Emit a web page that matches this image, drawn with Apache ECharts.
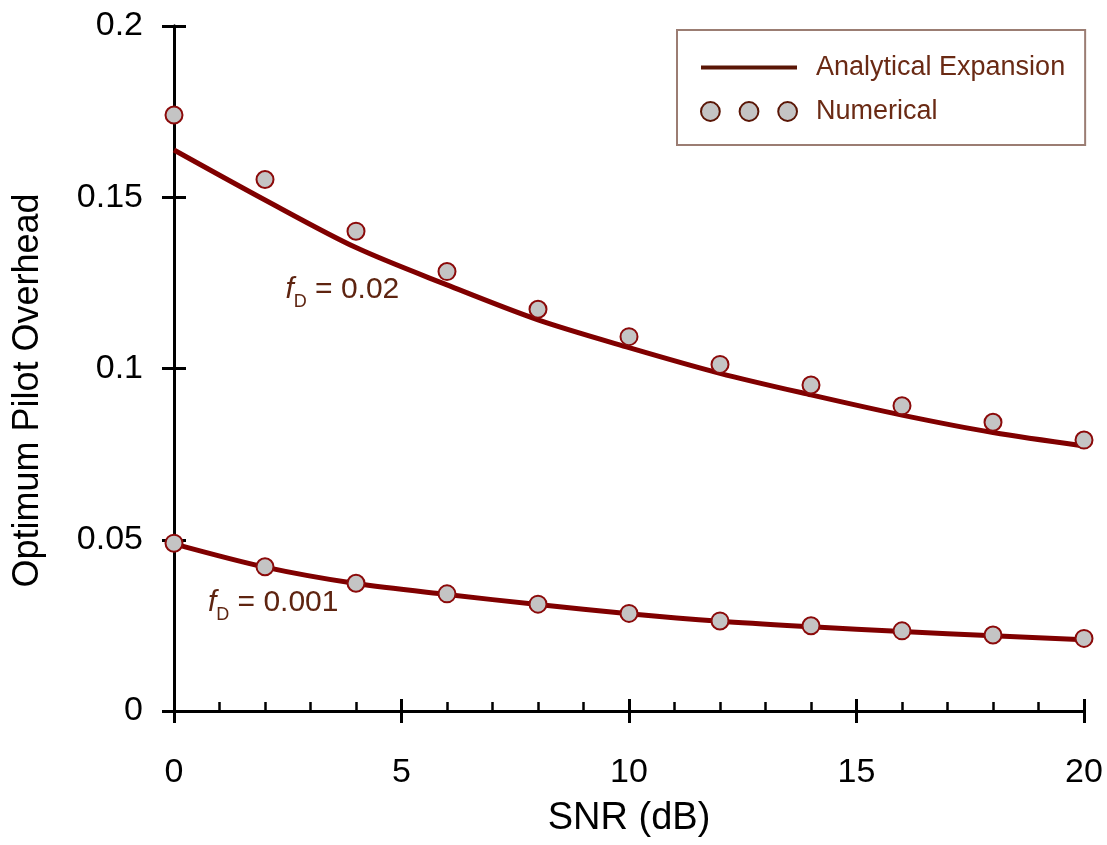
<!DOCTYPE html>
<html lang="en">
<head>
    <meta charset="UTF-8">
    <title>Optimum Pilot Overhead</title>
    <style>
        body { margin: 0; }
        #chart { width: 1107px; height: 845px; }
    </style>
</head>
<body>
    <div id="chart"></div>
    <script src="https://cdn.jsdelivr.net/npm/echarts@6/dist/echarts.min.js"></script>
    <script>
        const snr = [0, 2, 4, 6, 8, 10, 12, 14, 16, 18, 20];
        // fD = 0.02
        const analyticHigh = [0.1638, 0.1492, 0.1353, 0.1244, 0.1142, 0.1061, 0.0986, 0.0923, 0.0864, 0.0813, 0.0774];
        const numericHigh = [0.174, 0.1552, 0.1401, 0.1283, 0.1173, 0.1093, 0.1012, 0.0952, 0.0891, 0.0843, 0.0791];
        // fD = 0.001
        const analyticLow = [0.0488, 0.0420, 0.0372, 0.0340, 0.0311, 0.0284, 0.0262, 0.0246, 0.0232, 0.0220, 0.0208];
        const numericLow = [0.0490, 0.0421, 0.0373, 0.0342, 0.0312, 0.0285, 0.0263, 0.0249, 0.0234, 0.0222, 0.0212];

        const font = '"Liberation Sans Narrow", "Liberation Sans", Arial, sans-serif';
        const lineColor = '#800000';
        const textBrown = '#5e2410';

        const pairs = (ys) => snr.map((x, i) => [x, ys[i]]);

        const richLabel = {
            f: { fontFamily: font, fontStyle: 'italic', fontSize: 30, color: textBrown, lineHeight: 42 },
            sub: { fontFamily: font, fontSize: 18, color: textBrown, lineHeight: 18, padding: [24, 0, 0, 0] },
            t: { fontFamily: font, fontSize: 30, color: textBrown, lineHeight: 42 }
        };
        const note = (x, y, text) => ({
            coord: [x, y],
            symbol: 'circle',
            symbolSize: 1,
            itemStyle: { color: 'rgba(0,0,0,0)' },
            label: {
                show: true,
                position: 'inside',
                formatter: '{f|f}{sub|D}{t| = ' + text + '}',
                rich: richLabel
            }
        });

        const baseX = {
            type: 'value', min: 0, max: 20, interval: 5, position: 'bottom',
            splitLine: { show: false },
            axisLine: { onZero: false, lineStyle: { color: '#000', width: 3 } }
        };
        const baseY = {
            type: 'value', min: 0, max: 0.2, interval: 0.05, position: 'left',
            splitLine: { show: false },
            axisLine: { onZero: false, lineStyle: { color: '#000', width: 3 } }
        };

        const chart = echarts.init(document.getElementById('chart'));
        chart.setOption({
            animation: false,
            grid: { left: 174, right: 23, top: 26, bottom: 134 },
            legend: {
                orient: 'vertical',
                left: 677,
                top: 30,
                padding: [24, 20, 20, 23],
                itemGap: 17,
                itemWidth: 96,
                itemHeight: 30,
                borderColor: '#9b7d73',
                borderWidth: 2,
                textStyle: { fontFamily: font, fontSize: 27, color: '#6a2a14', padding: [0, 0, 0, 14] },
                data: [
                    {
                        name: 'Analytical Expansion',
                        icon: 'path://M0,0H100V4H0Z',
                        itemStyle: { color: '#5a1606', borderWidth: 0 }
                    },
                    {
                        name: 'Numerical',
                        icon: 'path://M0,9a9,9 0 1,0 18,0a9,9 0 1,0 -18,0Z M37,9a9,9 0 1,0 18,0a9,9 0 1,0 -18,0Z M74,9a9,9 0 1,0 18,0a9,9 0 1,0 -18,0Z',
                        itemStyle: { color: '#c4c4c4', borderColor: '#5a1606', borderWidth: 2 }
                    }
                ]
            },
            xAxis: [
                Object.assign({}, baseX, {
                    name: 'SNR (dB)',
                    nameLocation: 'middle',
                    nameGap: 89,
                    nameTextStyle: { fontFamily: font, fontSize: 38, color: '#000' },
                    axisTick: { inside: false, length: 12, lineStyle: { color: '#000', width: 3 } },
                    axisLabel: { margin: 45, fontFamily: font, fontSize: 34, color: '#000' }
                }),
                Object.assign({}, baseX, {
                    axisTick: { inside: true, length: 12, lineStyle: { color: '#000', width: 3 } },
                    axisLabel: { show: false },
                    minorTick: { show: true, splitNumber: 5, length: 9, lineStyle: { color: '#000', width: 2.5 } }
                })
            ],
            yAxis: [
                Object.assign({}, baseY, {
                    name: 'Optimum Pilot Overhead',
                    nameLocation: 'middle',
                    nameGap: 128,
                    nameTextStyle: { fontFamily: font, fontSize: 36, color: '#000', padding: [0, 44, 0, 0] },
                    axisTick: { inside: false, length: 12, lineStyle: { color: '#000', width: 3 } },
                    axisLabel: { margin: 31, fontFamily: font, fontSize: 34, color: '#000' }
                }),
                Object.assign({}, baseY, {
                    axisTick: { inside: true, length: 12, lineStyle: { color: '#000', width: 3 } },
                    axisLabel: { show: false }
                })
            ],
            series: [
                {
                    name: 'Analytical Expansion', type: 'line', data: pairs(analyticHigh),
                    showSymbol: false, smooth: 0.3, z: 2,
                    lineStyle: { color: lineColor, width: 5 }, itemStyle: { color: lineColor },
                    markPoint: { data: [note(3.7, 0.1229, '0.02')] }
                },
                {
                    name: 'Analytical Expansion', type: 'line', data: pairs(analyticLow),
                    showSymbol: false, smooth: 0.3, z: 2,
                    lineStyle: { color: lineColor, width: 5 }, itemStyle: { color: lineColor },
                    markPoint: { data: [note(2.18, 0.0315, '0.001')] }
                },
                {
                    name: 'Numerical', type: 'scatter', data: pairs(numericHigh),
                    symbol: 'circle', symbolSize: 17, z: 3,
                    itemStyle: { color: '#c4c4c4', borderColor: '#8b0a0a', borderWidth: 2, opacity: 1 }
                },
                {
                    name: 'Numerical', type: 'scatter', data: pairs(numericLow),
                    symbol: 'circle', symbolSize: 17, z: 3,
                    itemStyle: { color: '#c4c4c4', borderColor: '#8b0a0a', borderWidth: 2, opacity: 1 }
                }
            ]
        });
    </script>
</body>
</html>
